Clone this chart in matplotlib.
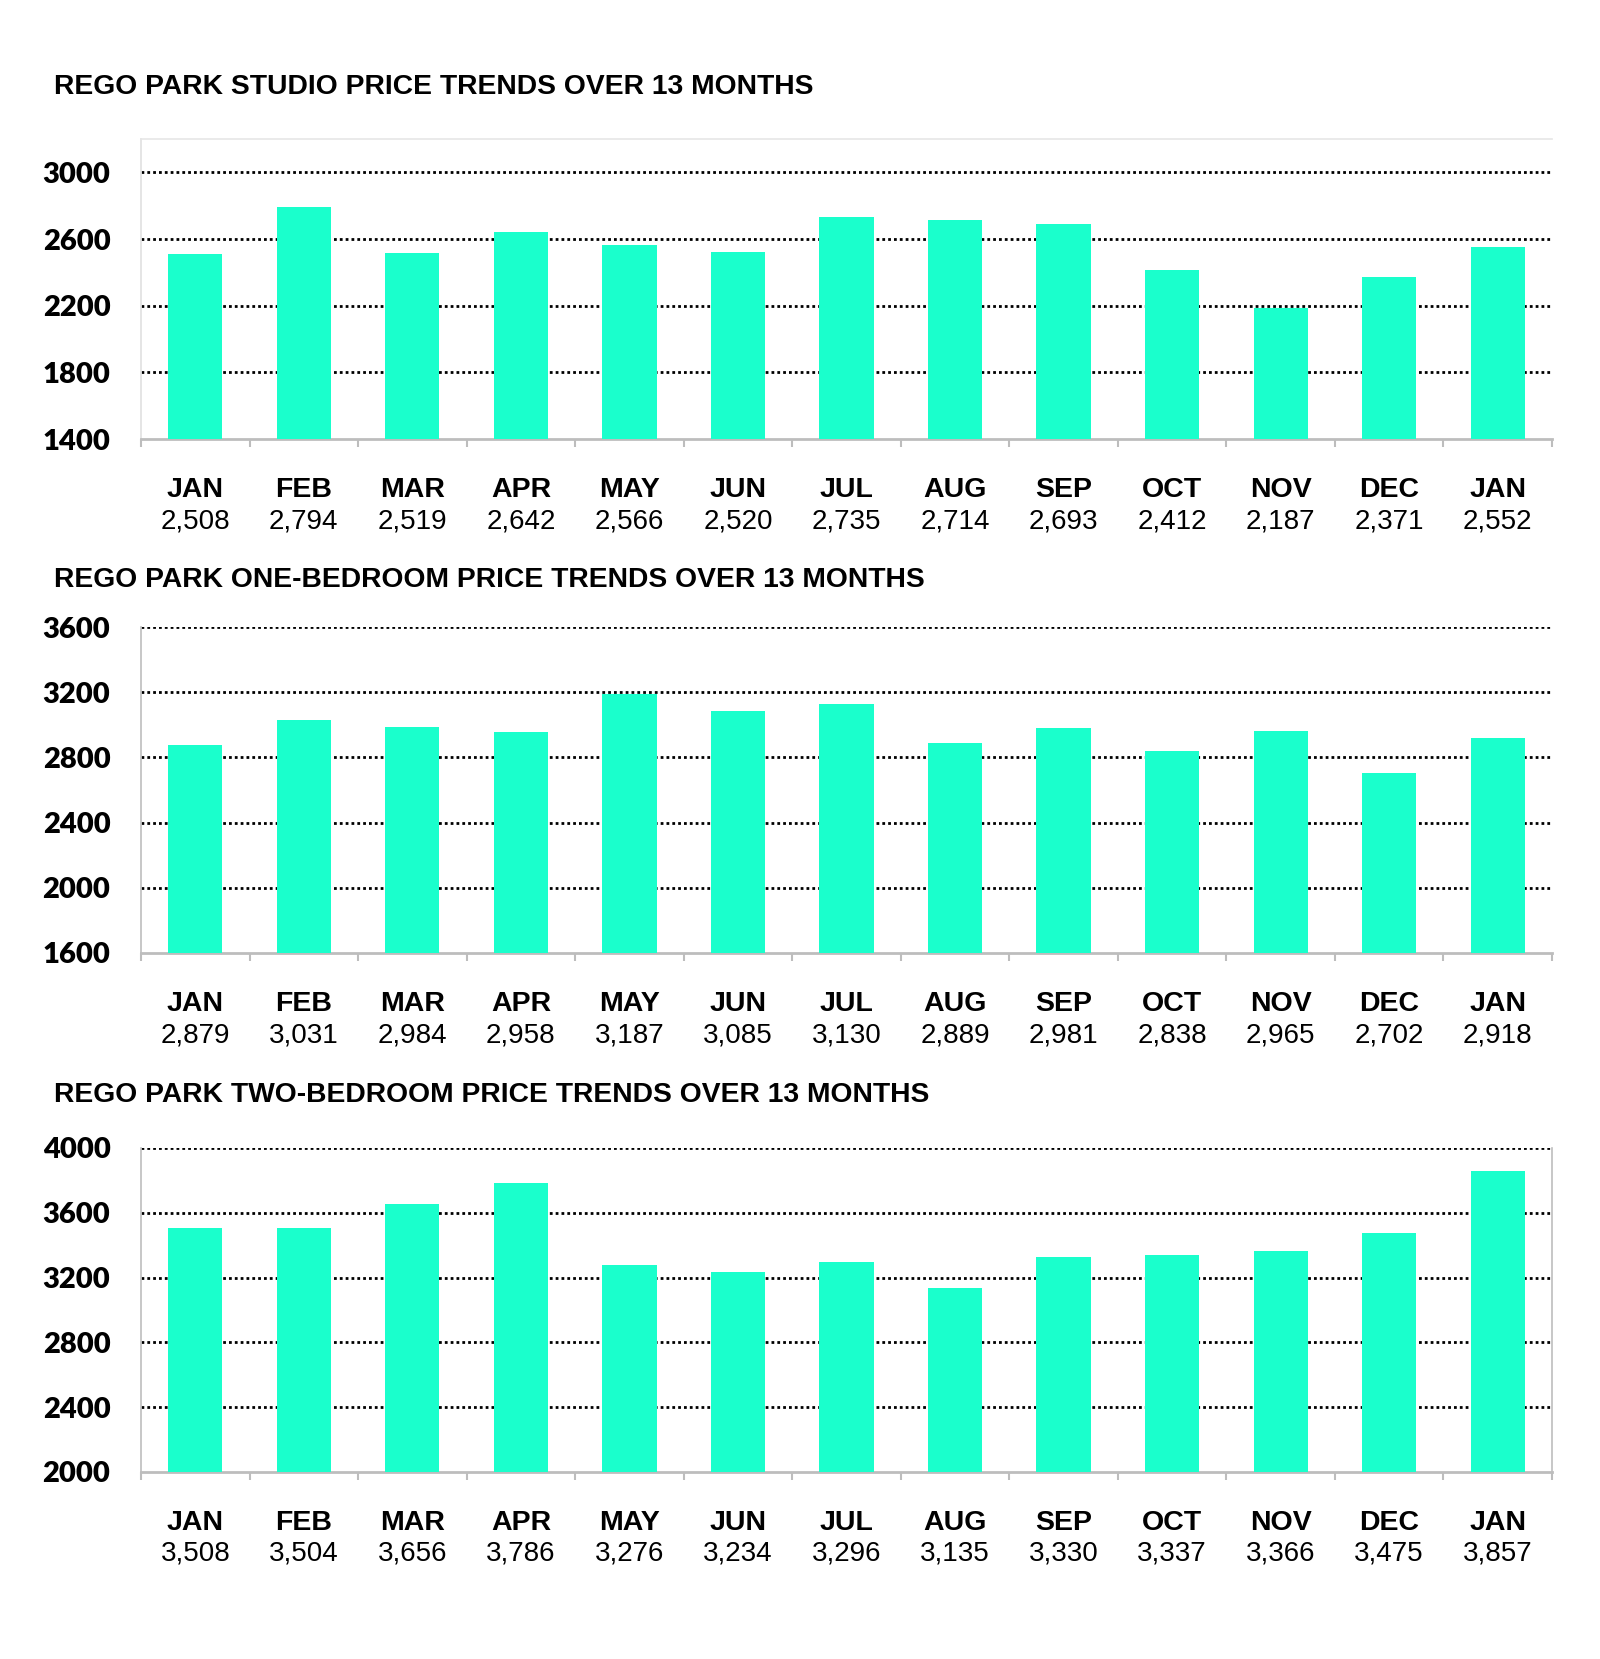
import numpy as np
import matplotlib.pyplot as plt

months = ['JAN', 'FEB', 'MAR', 'APR', 'MAY', 'JUN', 'JUL', 'AUG', 'SEP', 'OCT', 'NOV', 'DEC', 'JAN']
studio = [2508, 2794, 2519, 2642, 2566, 2520, 2735, 2714, 2693, 2412, 2187, 2371, 2552]
one_bed = [2879, 3031, 2984, 2958, 3187, 3085, 3130, 2889, 2981, 2838, 2965, 2702, 2918]
two_bed = [3508, 3504, 3656, 3786, 3276, 3234, 3296, 3135, 3330, 3337, 3366, 3475, 3857]

titles = ['REGO PARK STUDIO PRICE TRENDS OVER 13 MONTHS',
          'REGO PARK ONE-BEDROOM PRICE TRENDS OVER 13 MONTHS',
          'REGO PARK TWO-BEDROOM PRICE TRENDS OVER 13 MONTHS']
yticks_list = [[1400, 1800, 2200, 2600, 3000],
               [1600, 2000, 2400, 2800, 3200, 3600],
               [2000, 2400, 2800, 3200, 3600, 4000]]
ylims = [(1400, 3200), (1600, 3600), (2000, 4000)]

W, H = 1600, 1659
fig = plt.figure(figsize=(W / 100, H / 100), dpi=100)

# axes boxes in pixels: top, bottom
boxes = [(139, 439), (627, 953), (1148, 1472)]
title_y = [87, 580, 1095]
left, right = 141, 1552

bar_color = '#1AFFCC'
spine_color = '#BDBDBD'
x = np.arange(len(months))

for i, data in enumerate([studio, one_bed, two_bed]):
    top, bot = boxes[i]
    ax = fig.add_axes([left / W, 1 - bot / H, (right - left) / W, (bot - top) / H])
    ax.bar(x, data, width=0.5, color=bar_color, zorder=3)
    ax.set_xlim(-0.5, 12.5)
    ax.set_ylim(*ylims[i])
    ax.set_yticks(yticks_list[i])
    ax.set_yticklabels([str(t) for t in yticks_list[i]], fontfamily='Lato',
                       fontweight='heavy', fontsize=21)
    ax.tick_params(axis='y', length=0, pad=22)
    for t in yticks_list[i]:
        if t > ylims[i][0]:
            ax.axhline(t, color='black', lw=2.0, ls=(0, (1, 1.1)), zorder=1)
    ax.set_xticks(np.arange(-0.5, 13, 1))
    ax.set_xticklabels([])
    ax.tick_params(axis='x', length=6, width=1.5, color=spine_color, direction='out')
    for s in ['left', 'bottom', 'top', 'right']:
        ax.spines[s].set_color(spine_color)
        ax.spines[s].set_linewidth(1.2)
    ax.spines['bottom'].set_linewidth(2)
    if i == 0:
        ax.spines['right'].set_visible(False)
        ax.spines['top'].set_color('#E6E6E6')
        ax.spines['left'].set_color('#E0E0E0')
    elif i == 1:
        ax.spines['top'].set_visible(False)
        ax.spines['right'].set_visible(False)
    else:
        ax.spines['top'].set_visible(False)

    for j, (m, v) in enumerate(zip(months, data)):
        xf = (left + (j + 0.5) * (right - left) / 13) / W
        fig.text(xf, 1 - (bot + 51) / H, m, ha='center', va='center',
                 fontfamily='Liberation Sans', fontweight='bold', fontsize=20.5)
        fig.text(xf, 1 - (bot + 82) / H, f'{v:,}', ha='center', va='center',
                 fontfamily='Liberation Sans', fontsize=20)

    fig.text(54 / W, 1 - title_y[i] / H, titles[i], ha='left', va='center',
             fontfamily='Liberation Sans', fontweight='bold', fontsize=20.3)

fig.savefig('out.png', dpi=100, facecolor='white')
